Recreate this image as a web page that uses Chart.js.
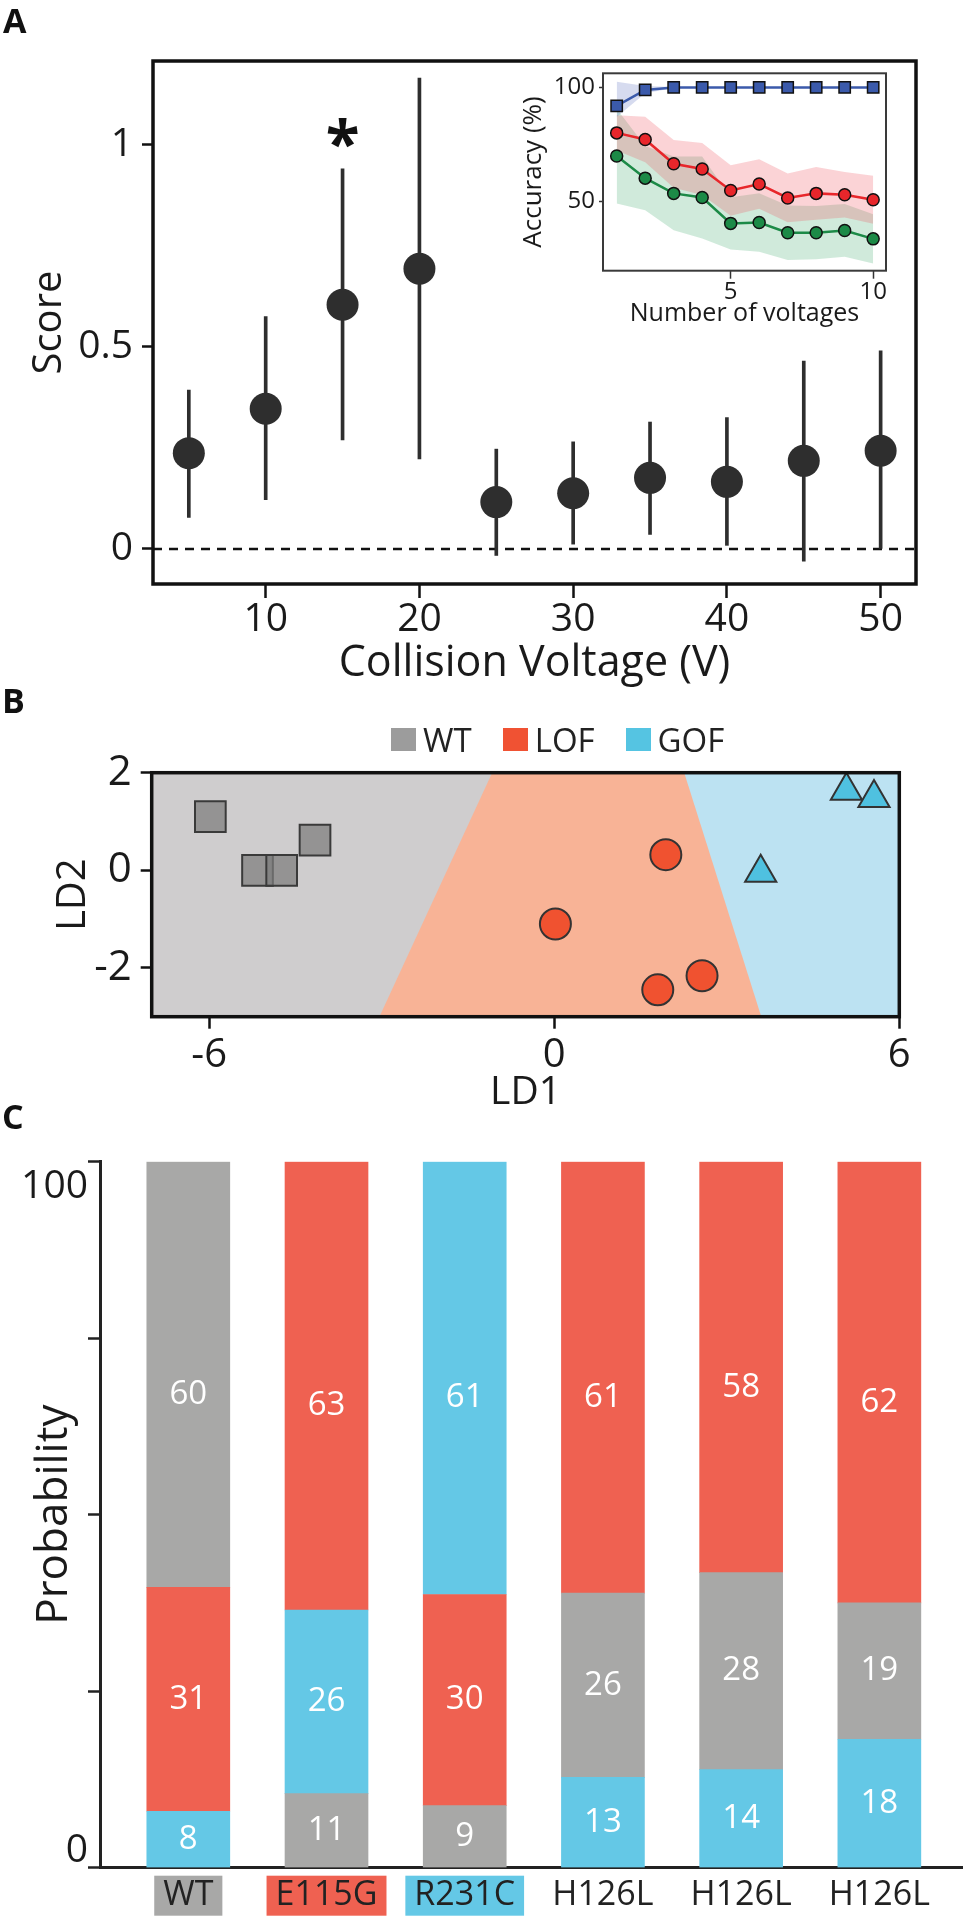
<!DOCTYPE html>
<html>
<head>
<meta charset="utf-8">
<title>Collision voltage score, LDA and class probability</title>
<script src="https://cdn.jsdelivr.net/npm/chart.js"></script>
<style>
  body { margin: 0; background: #fff; font-family: 'Open Sans', sans-serif; }
  #page { position: relative; width: 965px; height: 1920px; overflow: hidden; }
  canvas { position: absolute; }
  .panel { position: absolute; font-weight: 700; font-size: 34px; line-height: 1; color: #111; }
  #legendB { position: absolute; top: 723px; left: 391px; display: flex; align-items: center; font-size: 33px; line-height: 1; color: #222; }
  #legendB .item { display: flex; align-items: center; margin-right: 31px; }
  #legendB .box { display: inline-block; width: 25px; height: 23px; margin-right: 7px; }
</style>
</head>
<body>
<div id="page">
  <canvas id="chartA" width="965" height="700" style="left:0;top:0"></canvas>
  <canvas id="chartInset" width="400" height="275" style="left:520px;top:55px"></canvas>
  <canvas id="chartB" width="965" height="425" style="left:0;top:695px"></canvas>
  <canvas id="chartC" width="965" height="820" style="left:0;top:1100px"></canvas>
  <div class="panel" style="left:3px;top:3px">A</div>
  <div class="panel" style="left:2px;top:683px">B</div>
  <div class="panel" style="left:2px;top:1099px">C</div>
  <div id="legendB"></div>
</div>

<script>
  // ---- panel A: score per collision voltage ----
  let voltages = [5, 10, 15, 20, 25, 30, 35, 40, 45, 50];
  let score = [0.237, 0.347, 0.604, 0.693, 0.116, 0.138, 0.176, 0.166, 0.218, 0.243];
  let scoreLow = [0.078, 0.122, 0.270, 0.223, -0.016, 0.012, 0.036, 0.009, -0.030, 0.000];
  let scoreHigh = [0.393, 0.575, 0.940, 1.165, 0.247, 0.265, 0.314, 0.325, 0.465, 0.490];
  let sigVoltages = [15];
  let sigMarkY = [0.99];
  let voltageTicks = [10, 20, 30, 40, 50];
  let scoreTicks = [0, 0.5, 1];

  // ---- panel A inset: accuracy vs number of voltages ----
  let nVoltages = [1, 2, 3, 4, 5, 6, 7, 8, 9, 10];
  let accBlue = [91.9, 98.9, 100, 100, 100, 100, 100, 100, 100, 100];
  let accBlueHigh = [102.5, 100.6, 100.2, 100.1, 100.1, 100.1, 100.1, 100.1, 100.1, 100.1];
  let accBlueLow = [87.0, 97.4, 99.7, 99.9, 99.9, 99.9, 99.9, 99.9, 99.9, 99.9];
  let accRed = [80.0, 77.1, 66.4, 64.1, 54.7, 57.5, 51.4, 53.4, 52.8, 50.6];
  let accRedHigh = [87.8, 87.1, 76.9, 75.5, 65.8, 68.4, 62.1, 65.0, 62.8, 61.2];
  let accRedLow = [72.2, 67.1, 55.9, 52.7, 43.6, 46.6, 40.7, 41.8, 42.8, 40.0];
  let accGreen = [69.8, 60.1, 53.4, 51.6, 40.2, 40.6, 36.1, 36.1, 37.1, 33.4];
  let accGreenHigh = [90.6, 74.2, 69.6, 69.6, 51.7, 53.5, 48.1, 47.8, 48.7, 44.2];
  let accGreenLow = [49.0, 46.0, 37.2, 33.6, 28.7, 27.7, 24.1, 24.4, 25.5, 22.6];
  let nVoltageTicks = [5, 10];
  let accTicks = [50, 100];

  // ---- panel B: LDA scores and decision regions ----
  let classNames = ['WT', 'LOF', 'GOF'];
  let wtLD1 = [-5.98, -5.16, -4.74, -4.16];
  let wtLD2 = [1.10, 0.00, 0.00, 0.62];
  let lofLD1 = [0.02, 1.94, 2.57, 1.80];
  let lofLD2 = [-1.10, 0.32, -2.16, -2.45];
  let gofLD1 = [3.59, 5.08, 5.56];
  let gofLD2 = [-0.05, 1.63, 1.48];
  let wtRegionLD1 = [-7, -3.04, -1.08];
  let wtRegionLD2 = [-3, -3, 2];
  let gofRegionLD1 = [2.26, 3.60, 6];
  let gofRegionLD2 = [2, -3, -3];
  let lofRegionLD1 = [-7, 6];
  let lofRegionLD2 = [-3, -3];
  let ld1Ticks = [-6, 0, 6];
  let ld2Ticks = [-2, 0, 2];

  // ---- panel C: class probability per variant (bottom, middle, top) ----
  let variants = ['WT', 'E115G', 'R231C', 'H126L', 'H126L', 'H126L'];
  let variantClass = ['WT', 'LOF', 'GOF', '', '', ''];
  let segBottom = [8.0, 10.5, 8.8, 12.8, 13.9, 18.2];
  let segMiddle = [31.7, 26.0, 29.9, 26.1, 27.9, 19.3];
  let segTop = [60.3, 63.5, 61.3, 61.1, 58.2, 62.5];
  let printedBottom = [8, 11, 9, 13, 14, 18];
  let printedMiddle = [31, 26, 30, 26, 28, 19];
  let printedTop = [60, 63, 61, 61, 58, 62];
  let classBottom = ['GOF', 'WT', 'WT', 'GOF', 'GOF', 'GOF'];
  let classMiddle = ['LOF', 'GOF', 'LOF', 'WT', 'WT', 'WT'];
  let classTop = ['WT', 'LOF', 'GOF', 'LOF', 'LOF', 'LOF'];
  let probTickMarks = [0, 25, 50, 75, 100];
  let probTickLabels = [0, 100];

  let classColors = { WT: '#a8a8a7', LOF: '#ef6151', GOF: '#64c8e6' };
  let legendColors = { WT: '#9c9c9c', LOF: '#f05233', GOF: '#55c4e2' };
  let ink = '#1a1a1a';

  Chart.defaults.font.family = "'Open Sans', sans-serif";
  Chart.defaults.color = ink;

  function pts(xs, ys) {
    return xs.map((x, i) => ({ x: x, y: ys[i] }));
  }
  function font(size) {
    return { family: "'Open Sans', sans-serif", size: size, lineHeight: 1 };
  }
  function fixTicks(values) {
    return scale => { scale.ticks = values.map(v => ({ value: v })); };
  }

  // box round the plot area
  const framePlugin = {
    id: 'frame',
    afterDatasetsDraw(chart, args, opts) {
      const { ctx, chartArea: a } = chart;
      ctx.save();
      ctx.strokeStyle = opts.color;
      ctx.lineWidth = opts.width;
      ctx.strokeRect(a.left, a.top, a.right - a.left, a.bottom - a.top);
      ctx.restore();
    }
  };

  const starPlugin = {
    id: 'sigStar',
    afterDatasetsDraw(chart) {
      const { ctx, scales } = chart;
      ctx.save();
      ctx.font = "700 62px 'Open Sans', sans-serif";
      ctx.textAlign = 'center';
      ctx.textBaseline = 'middle';
      ctx.fillStyle = '#111';
      sigVoltages.forEach((v, i) => {
        ctx.fillText('*', scales.x.getPixelForValue(v), scales.y.getPixelForValue(sigMarkY[i]));
      });
      ctx.restore();
    }
  };

  const segmentLabels = {
    id: 'segmentLabels',
    afterDatasetsDraw(chart) {
      const ctx = chart.ctx;
      ctx.save();
      ctx.font = "33px 'Open Sans', sans-serif";
      ctx.fillStyle = '#fff';
      ctx.textAlign = 'center';
      ctx.textBaseline = 'middle';
      chart.data.datasets.forEach((ds, d) => {
        chart.getDatasetMeta(d).data.forEach((bar, i) => {
          ctx.fillText(String(ds.printed[i]), bar.x, (bar.y + bar.base) / 2 + ds.labelShift);
        });
      });
      ctx.restore();
    }
  };

  const common = { responsive: false, animation: false, devicePixelRatio: 1, events: [] };

  // ---------- panel A ----------
  let scoreXMin = 2.67, scoreXMax = 52.3;
  new Chart(document.getElementById('chartA'), {
    type: 'scatter',
    data: {
      datasets: [
        { data: pts(voltages, score), pointRadius: 16, backgroundColor: '#2e2e2e', borderWidth: 0, order: 0 },
        { type: 'bar', data: voltages.map((v, i) => ({ x: v, y: [scoreLow[i], scoreHigh[i]] })),
          backgroundColor: '#2e2e2e', barThickness: 3, order: 1 },
        { type: 'line', data: [{ x: scoreXMin, y: 0 }, { x: scoreXMax, y: 0 }], borderColor: '#111',
          borderWidth: 2.5, borderDash: [9, 7], pointRadius: 0, fill: false, order: 2 }
      ]
    },
    options: Object.assign({}, common, {
      layout: { padding: { left: 0, right: 49, top: 61, bottom: 0 } },
      plugins: { legend: { display: false }, tooltip: { enabled: false }, frame: { color: '#111', width: 3.5 } },
      scales: {
        x: {
          type: 'linear', min: scoreXMin, max: scoreXMax, offset: false,
          grid: { offset: false, drawOnChartArea: false, tickLength: 14, tickWidth: 2.5, tickColor: '#111' },
          border: { display: false },
          afterBuildTicks: fixTicks(voltageTicks),
          ticks: { autoSkip: false, padding: 2, font: font(39), color: ink, maxRotation: 0, callback: v => String(v) },
          title: { display: true, text: 'Collision Voltage (V)', font: font(43), color: ink, padding: { top: 0, bottom: 14.5 } },
          afterFit: s => { s.height = 116; }
        },
        y: {
          type: 'linear', min: -0.0866, max: 1.207,
          grid: { drawOnChartArea: false, tickLength: 11, tickWidth: 2.5, tickColor: '#111' },
          border: { display: false },
          afterBuildTicks: fixTicks(scoreTicks),
          ticks: { autoSkip: false, padding: 9, font: font(39), color: ink, callback: v => String(v) },
          title: { display: true, text: 'Score', font: font(40), color: ink, padding: { top: 30, bottom: 0 } },
          afterFit: s => { s.width = 153; }
        }
      }
    }),
    plugins: [framePlugin, starPlugin]
  });

  // ---------- panel A inset ----------
  function band(hi, lo, color, order) {
    return [
      { type: 'line', data: pts(nVoltages, hi), borderWidth: 0, pointRadius: 0, backgroundColor: color, fill: '+1', order: order },
      { type: 'line', data: pts(nVoltages, lo), borderWidth: 0, pointRadius: 0, fill: false, order: order }
    ];
  }
  function accLine(values, color, style, radius) {
    return {
      type: 'line', data: pts(nVoltages, values), borderColor: color, borderWidth: 2.5,
      pointStyle: style, pointRadius: radius, pointBackgroundColor: color,
      pointBorderColor: '#111', pointBorderWidth: 1.5, fill: false, order: 0
    };
  }
  new Chart(document.getElementById('chartInset'), {
    type: 'scatter',
    data: {
      datasets: [
        accLine(accBlue, '#3b5aab', 'rect', 8),
        accLine(accRed, '#e8262b', 'circle', 6),
        accLine(accGreen, '#1c8a47', 'circle', 6)
      ].concat(
        band(accBlueHigh, accBlueLow, 'rgba(70,90,180,0.22)', 1),
        band(accRedHigh, accRedLow, 'rgba(240,80,90,0.25)', 2),
        band(accGreenHigh, accGreenLow, 'rgba(40,160,90,0.22)', 3)
      )
    },
    options: Object.assign({}, common, {
      layout: { padding: { left: 0, right: 34, top: 18.3, bottom: 0 } },
      plugins: { legend: { display: false }, tooltip: { enabled: false }, frame: { color: '#3a3a3a', width: 2 } },
      scales: {
        x: {
          type: 'linear', min: 0.52, max: 10.45,
          grid: { drawOnChartArea: false, tickLength: 8, tickWidth: 1.5, tickColor: '#333' },
          border: { display: false },
          afterBuildTicks: fixTicks(nVoltageTicks),
          ticks: { autoSkip: false, padding: 1, font: font(24), color: ink, maxRotation: 0, callback: v => String(v) },
          title: { display: true, text: 'Number of voltages', font: font(25), color: ink, padding: { top: 0, bottom: 3.7 } },
          afterFit: s => { s.height = 59.3; }
        },
        y: {
          type: 'linear', min: 19.4, max: 106.2,
          grid: { drawOnChartArea: false, tickLength: 4, tickWidth: 1.5, tickColor: '#333' },
          border: { display: false },
          afterBuildTicks: fixTicks(accTicks),
          ticks: { autoSkip: false, padding: 4, font: font(24), color: ink, callback: v => String(v) },
          title: { display: true, text: 'Accuracy (%)', font: font(26), color: ink, padding: { top: 1, bottom: 0 } },
          afterFit: s => { s.width = 83; }
        }
      }
    }),
    plugins: [framePlugin]
  });

  // ---------- panel B ----------
  let legendB = document.getElementById('legendB');
  classNames.forEach(name => {
    legendB.innerHTML += `<span class="item"><span class="box" style="background:${legendColors[name]}"></span>${name}</span>`;
  });

  new Chart(document.getElementById('chartB'), {
    type: 'scatter',
    data: {
      datasets: [
        { data: pts(wtLD1, wtLD2), pointStyle: 'rect', pointRadius: 21.7, backgroundColor: 'rgba(125,125,125,0.72)',
          borderColor: '#3a3a3a', borderWidth: 2, order: 0 },
        { data: pts(lofLD1, lofLD2), pointStyle: 'circle', pointRadius: 15.5, backgroundColor: '#f05230',
          borderColor: '#333', borderWidth: 2, order: 0 },
        { data: pts(gofLD1, gofLD2), pointStyle: 'triangle', pointRadius: 18, backgroundColor: '#4fc1e0',
          borderColor: '#333', borderWidth: 2, order: 0 },
        { type: 'line', data: pts(gofRegionLD1, gofRegionLD2), fill: 'end', backgroundColor: '#bce2f2',
          borderWidth: 0, pointRadius: 0, order: 1 },
        { type: 'line', data: pts(wtRegionLD1, wtRegionLD2), fill: 'end', backgroundColor: '#cfcdce',
          borderWidth: 0, pointRadius: 0, order: 2 },
        { type: 'line', data: pts(lofRegionLD1, lofRegionLD2), fill: 'end', backgroundColor: '#f8b396',
          borderWidth: 0, pointRadius: 0, order: 3 }
      ]
    },
    options: Object.assign({}, common, {
      layout: { padding: { left: 0, right: 65.7, top: 77.7, bottom: 0 } },
      plugins: { legend: { display: false }, tooltip: { enabled: false }, frame: { color: '#111', width: 3.5 } },
      scales: {
        x: {
          type: 'linear', min: -7, max: 6,
          grid: { drawOnChartArea: false, tickLength: 12, tickWidth: 2.5, tickColor: '#111' },
          border: { display: false },
          afterBuildTicks: fixTicks(ld1Ticks),
          ticks: { autoSkip: false, padding: 7, font: font(40), color: ink, maxRotation: 0, callback: v => String(v) },
          title: { display: true, text: 'LD1', font: font(39), color: ink, padding: { top: 0, bottom: 7.5 } },
          afterFit: s => { s.height = 103.3; }
        },
        y: {
          type: 'linear', min: -3, max: 2,
          grid: { drawOnChartArea: false, tickLength: 11, tickWidth: 2.5, tickColor: '#111' },
          border: { display: false },
          afterBuildTicks: fixTicks(ld2Ticks),
          ticks: { autoSkip: false, padding: 9, font: font(42), color: ink, callback: v => String(v) },
          title: { display: true, text: 'LD2', font: font(40), color: ink, padding: { top: 54, bottom: 0 } },
          afterFit: s => { s.width = 151.7; }
        }
      }
    }),
    plugins: [framePlugin]
  });

  // ---------- panel C ----------
  let segHeights = [segBottom, segMiddle, segTop];
  let segPrinted = [printedBottom, printedMiddle, printedTop];
  let segClasses = [classBottom, classMiddle, classTop];

  new Chart(document.getElementById('chartC'), {
    type: 'bar',
    data: {
      datasets: segHeights.map((h, s) => ({
        data: h.map((v, i) => ({ x: i, y: v })),
        backgroundColor: segClasses[s].map(c => classColors[c]),
        barThickness: 83,
        borderWidth: 0,
        printed: segPrinted[s],
        labelShift: s === 2 ? 20 : 0
      }))
    },
    options: Object.assign({}, common, {
      layout: { padding: { left: 0, right: 3, top: 61.7, bottom: 0 } },
      plugins: { legend: { display: false }, tooltip: { enabled: false } },
      scales: {
        x: {
          type: 'linear', min: -0.6389, max: 5.598, offset: false, stacked: true,
          grid: { display: false, drawTicks: false, offset: false },
          border: { display: true, width: 3, color: '#222' },
          afterBuildTicks: scale => { scale.ticks = variants.map((v, i) => ({ value: i })); },
          ticks: {
            autoSkip: false, maxRotation: 0, padding: 11,
            font: font(34), color: '#222',
            callback: v => variants[v] || '',
            showLabelBackdrop: c => !!variantClass[c.index],
            backdropColor: c => classColors[variantClass[c.index]] || 'rgba(0,0,0,0)',
            backdropPadding: { left: 9, right: 9, top: 3, bottom: 3 }
          },
          afterFit: s => { s.height = 52.3; }
        },
        y: {
          type: 'linear', min: 0, max: 100, stacked: true, weight: 0,
          grid: { drawOnChartArea: false, tickLength: 12, tickWidth: 2.5, tickColor: '#222' },
          border: { display: true, width: 3, color: '#222' },
          afterBuildTicks: fixTicks(probTickMarks),
          ticks: { autoSkip: false, padding: 0, callback: () => '' },
          afterFit: s => { s.width = 12; }
        },
        y2: {
          type: 'linear', position: 'left', min: -2.5, max: 103.8, weight: 10,
          grid: { display: false, drawTicks: false },
          border: { display: false },
          afterBuildTicks: fixTicks(probTickLabels),
          ticks: { autoSkip: false, padding: 0, font: font(39), color: ink, callback: v => String(v) },
          title: { display: true, text: 'Probability', font: font(44), color: ink, padding: { top: 32, bottom: 0 } },
          afterFit: s => { s.width = 88; }
        }
      }
    }),
    plugins: [segmentLabels]
  });
</script>
</body>
</html>
